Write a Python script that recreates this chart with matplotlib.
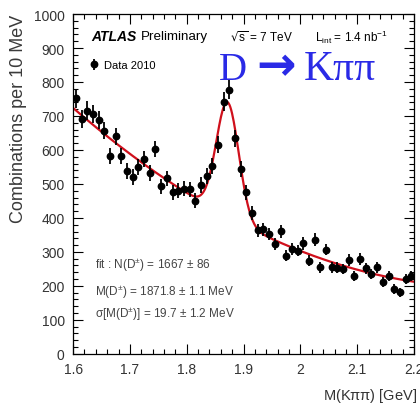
import numpy as np
import matplotlib
matplotlib.use("Agg")
import matplotlib.pyplot as plt
from matplotlib.ticker import MultipleLocator, FormatStrFormatter

plt.rcParams['font.family'] = ['Liberation Sans', 'DejaVu Sans']
plt.rcParams['mathtext.default'] = 'regular'

# bin centres (GeV), 10 MeV bins
mass = [1.605, 1.615, 1.625, 1.635, 1.645, 1.655, 1.665, 1.675, 1.685, 1.695,
        1.705, 1.715, 1.725, 1.735, 1.745, 1.755, 1.765, 1.775, 1.785, 1.795,
        1.805, 1.815, 1.825, 1.835, 1.845, 1.855, 1.865, 1.875, 1.885, 1.895,
        1.905, 1.915, 1.925, 1.935, 1.945, 1.955, 1.965, 1.975, 1.985, 1.995,
        2.005, 2.015, 2.025, 2.035, 2.045, 2.055, 2.065, 2.075, 2.085, 2.095,
        2.105, 2.115, 2.125, 2.135, 2.145, 2.155, 2.165, 2.175, 2.185, 2.195]
counts = [752, 691, 716, 706, 689, 657, 583, 640, 583, 539,
          520, 549, 574, 532, 603, 493, 516, 476, 480, 486,
          485, 451, 497, 524, 554, 615, 742, 777, 634, 544,
          476, 415, 363, 366, 353, 324, 361, 289, 309, 304,
          325, 274, 336, 255, 307, 255, 253, 250, 276, 230,
          279, 252, 235, 255, 211, 228, 191, 181, 219, 228]

# fit results printed on the plot
fit_n = 1667
fit_m = 1871.8   # MeV
fit_sigma = 19.7  # MeV
bin_width = 10.0  # MeV

x = np.array(mass)
y = np.array(counts)

# background from sidebands + gaussian signal
side = np.abs(x - fit_m / 1000) > 0.05
bg = np.polyfit(x[side], y[side], 2)
xf = np.linspace(1.6, 2.2, 400)
amp = fit_n * bin_width / (np.sqrt(2 * np.pi) * fit_sigma)
yf = np.polyval(bg, xf) + amp * np.exp(-0.5 * ((xf * 1000 - fit_m) / fit_sigma) ** 2)

fig = plt.figure(figsize=(4.2, 4.06), dpi=100)
ax = fig.add_axes([0.174, 0.126, 0.812, 0.837])

ax.plot(xf, yf, color='#d0101c', lw=1.6, zorder=2)
ax.errorbar(x, y, yerr=np.sqrt(y), fmt='o', color='black', ms=4.6,
            elinewidth=1.3, capsize=0, zorder=3, label='Data 2010')

ax.set_xlim(1.6, 2.2)
ax.set_ylim(0, 1000)
ax.xaxis.set_major_locator(MultipleLocator(0.1))
ax.xaxis.set_minor_locator(MultipleLocator(0.02))
ax.yaxis.set_major_locator(MultipleLocator(100))
ax.yaxis.set_minor_locator(MultipleLocator(20))
ax.xaxis.set_major_formatter(FormatStrFormatter('%g'))
ax.tick_params(which='both', direction='in', top=True, right=True,
               labelsize=10, labelcolor='#333333', width=0.8)
ax.tick_params(which='major', length=7)
ax.tick_params(which='minor', length=3.5)
ax.tick_params(axis='x', pad=6)
ax.tick_params(axis='y', pad=6)
for s in ax.spines.values():
    s.set_linewidth(0.9)

ax.set_ylabel('Combinations per 10 MeV', fontsize=13, color='#3a3a3a', loc='top')
ax.yaxis.set_label_coords(-0.135, 1.0)
ax.set_xlabel(r'M(K$\pi\pi$) [GeV]', fontsize=10.5, color='#333333', loc='right')
ax.xaxis.set_label_coords(1.01, -0.095)

ax.text(0.053, 0.935, 'ATLAS', transform=ax.transAxes, fontsize=10,
        fontweight='bold', fontstyle='italic', va='center')
ax.text(0.2, 0.935, 'Preliminary', transform=ax.transAxes, fontsize=9.6, va='center')
ax.text(0.46, 0.935, r'$\sqrt{s}$ = 7 TeV', transform=ax.transAxes, fontsize=8.5, va='center')
ax.text(0.71, 0.935, r'L$_{int}$ = 1.4 nb$^{-1}$', transform=ax.transAxes,
        fontsize=8.5, va='center')
ax.legend(loc='upper left', bbox_to_anchor=(0.02, 0.893), frameon=False,
          handlelength=0.8, handletextpad=0.5, fontsize=8)

# big blue decay label
blue = '#2a2ae6'
serif = ['Liberation Serif', 'DejaVu Serif']
ax.text(0.428, 0.809, 'D', transform=ax.transAxes, fontsize=28, color=blue,
        family=serif, va='baseline')
ax.text(0.594, 0.809, '\u2192', transform=ax.transAxes, fontsize=34, color=blue,
        family=['DejaVu Sans'], fontweight='bold', va='baseline', ha='center')
ax.text(0.676, 0.809, 'K\u03c0\u03c0', transform=ax.transAxes, fontsize=30,
        color=blue, family=serif, va='baseline')

fit_lines = [r'fit : N(D$^{\pm}$) = 1667 $\pm$ 86',
             r'M(D$^{\pm}$) = 1871.8 $\pm$ 1.1 MeV',
             r'$\sigma$[M(D$^{\pm}$)] = 19.7 $\pm$ 1.2 MeV']
fit_y = [0.265, 0.185, 0.118]
for t, yy in zip(fit_lines, fit_y):
    ax.text(0.065, yy, t, transform=ax.transAxes, fontsize=8.5,
            color='#444444', va='center')

fig.savefig('out.png', dpi=100)
